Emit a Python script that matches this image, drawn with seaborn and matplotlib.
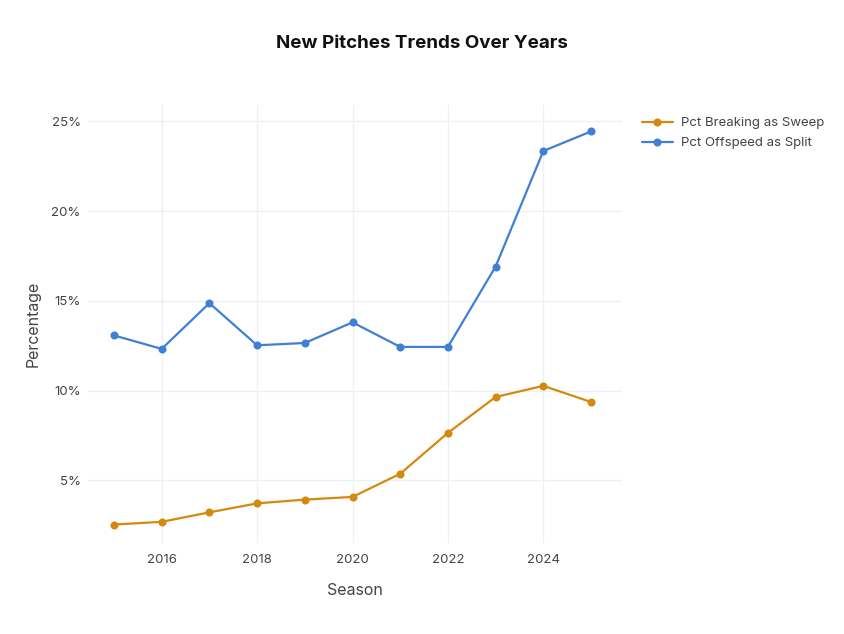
import matplotlib
matplotlib.use("Agg")
from matplotlib import pyplot as plt
from matplotlib.ticker import FuncFormatter
import pandas as pd
import seaborn as sns

seasons = [2015, 2016, 2017, 2018, 2019, 2020, 2021, 2022, 2023, 2024, 2025]
pct_sweep = [2.53, 2.68, 3.21, 3.71, 3.92, 4.07, 5.36, 7.64, 9.64, 10.26, 9.36]
pct_split = [13.07, 12.32, 14.87, 12.52, 12.65, 13.80, 12.43, 12.43, 16.91, 23.35, 24.44]
series_names = ["Pct Breaking as Sweep", "Pct Offspeed as Split"]
colors = ["#D4890F", "#3F80D6"]

df = pd.DataFrame({
    "Season": seasons * 2,
    "Percentage": pct_sweep + pct_split,
    "Metric": [series_names[0]] * len(seasons) + [series_names[1]] * len(seasons),
})

sns.set_style("white")
plt.rcParams["font.family"] = ["Inter", "DejaVu Sans"]

fig = plt.figure(figsize=(8.44, 6.34), dpi=100)
ax = fig.add_axes([0.104, 0.1435, 0.633, 0.6905])

sns.lineplot(data=df, x="Season", y="Percentage", hue="Metric",
             palette=colors, marker="o", markersize=5.8, markeredgewidth=0,
             linewidth=1.6, ax=ax)

ax.set_xlim(2014.45, 2025.65)
ax.set_ylim(1.5, 25.9)
ax.set_xticks([2016, 2018, 2020, 2022, 2024])
ax.set_yticks([5, 10, 15, 20, 25])
ax.yaxis.set_major_formatter(FuncFormatter(lambda v, p: f"{int(v)}%"))
ax.grid(True, color="#EEF0F7", linewidth=1)
for s in ax.spines.values():
    s.set_visible(False)
ax.tick_params(length=0, labelsize=9.5, colors="#444444")
ax.tick_params(axis="y", pad=5)
ax.tick_params(axis="x", pad=8)

ax.set_xlabel("Season", fontsize=11.5, color="#444444", labelpad=12)
ax.set_ylabel("Percentage", fontsize=11.5, color="#444444", labelpad=8)

fig.suptitle("New Pitches Trends Over Years", x=0.5, y=0.945, fontsize=13.5,
             fontweight="bold", color="#111111")

leg = ax.legend(loc="upper left", bbox_to_anchor=(1.028, 0.985), frameon=False,
                fontsize=9.5, handlelength=2.3, labelspacing=0.6,
                handletextpad=0.6, borderaxespad=0.0)
for t in leg.get_texts():
    t.set_color("#444444")

fig.savefig("out.png", dpi=100)
